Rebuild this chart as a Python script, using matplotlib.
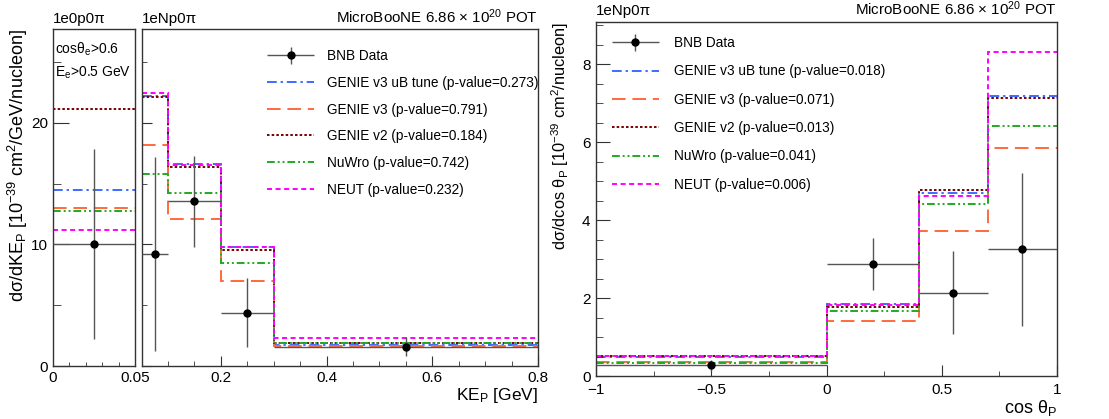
import numpy as np
import matplotlib.pyplot as plt
from matplotlib.ticker import MultipleLocator, FixedLocator
from matplotlib.legend_handler import HandlerErrorbar

plt.rcParams['font.family'] = ['Liberation Sans', 'DejaVu Sans']
plt.rcParams['mathtext.fontset'] = 'custom'
plt.rcParams['mathtext.rm'] = 'Liberation Sans'
plt.rcParams['mathtext.it'] = 'Liberation Sans'
plt.rcParams['axes.unicode_minus'] = True

# 1e0p0pi : single KE_p bin
edges_0p = [0.0, 0.05]
data_0p = [10.05]
err_0p = [7.8]
uB_0p = [14.5]
v3_0p = [13.0]
v2_0p = [21.1]
nuwro_0p = [12.7]
neut_0p = [11.2]

# 1eNp0pi : KE_p
edges_ke = [0.05, 0.1, 0.2, 0.3, 0.8]
data_ke = [9.2, 13.55, 4.38, 1.6]
err_ke = [8.0, 3.75, 2.85, 0.8]
uB_ke = [22.2, 16.6, 9.8, 1.73]
v3_ke = [18.2, 12.1, 6.96, 1.62]
v2_ke = [22.1, 16.35, 9.5, 1.9]
nuwro_ke = [15.8, 14.2, 8.46, 1.92]
neut_ke = [22.4, 16.5, 9.8, 2.33]
pval_ke = ["0.273", "0.791", "0.184", "0.742", "0.232"]

# 1eNp0pi : cos theta_p
edges_cos = [-1.0, 0.0, 0.4, 0.7, 1.0]
data_cos = [0.27, 2.88, 2.14, 3.25]
err_cos = [0.13, 0.67, 1.07, 1.96]
uB_cos = [0.48, 1.85, 4.70, 7.18]
v3_cos = [0.35, 1.41, 3.73, 5.84]
v2_cos = [0.52, 1.77, 4.76, 7.13]
nuwro_cos = [0.33, 1.67, 4.40, 6.40]
neut_cos = [0.52, 1.82, 4.61, 8.30]
pval_cos = ["0.018", "0.071", "0.013", "0.041", "0.006"]

model_names = ["GENIE v3 uB tune", "GENIE v3", "GENIE v2", "NuWro", "NEUT"]
styles = [
    dict(color='#3d6bff', ls=(0, (5, 2, 1.2, 2))),
    dict(color='#ff6a3d', ls=(0, (7, 3.5))),
    dict(color='#7a0000', ls=(0, (1.3, 1.1))),
    dict(color='#22aa22', ls=(0, (4, 1.5, 1, 1.5, 1, 1.5))),
    dict(color='#ff00ff', ls=(0, (2.6, 1.8))),
]
LW = 1.4
FS = 10
LEG_FS = 9.8
TITLE_FS = 10.9


def draw(ax, edges, data, err, models):
    lines = []
    for vals, st in zip(models, styles):
        h = ax.stairs(vals, edges, baseline=None, lw=LW, **st)
        lines.append(h)
    e = np.asarray(edges)
    centers = 0.5 * (e[1:] + e[:-1])
    halfw = 0.5 * (e[1:] - e[:-1])
    dh = ax.errorbar(centers, data, yerr=err, xerr=halfw, fmt='o', color='black',
                     ms=5, ecolor='#555555', elinewidth=1.0, capsize=0, zorder=5)
    return dh, lines


def frame(ax):
    for s in ax.spines.values():
        s.set_color('#333333')
        s.set_linewidth(1.0)
    ax.tick_params(which='both', direction='in', top=False, right=False,
                   labelsize=FS + 1, colors='#333333', labelcolor='black')


fig = plt.figure(figsize=(11.09, 4.19), dpi=100)
ax1 = fig.add_axes([53 / 1109, 1 - 366 / 419, 82 / 1109, 337 / 419])
ax2 = fig.add_axes([141.5 / 1109, 1 - 366 / 419, 396.5 / 1109, 337 / 419])
ax3 = fig.add_axes([596 / 1109, 1 - 376 / 419, 461 / 1109, 354 / 419])

# panel 1
draw(ax1, edges_0p, data_0p, err_0p, [uB_0p, v3_0p, v2_0p, nuwro_0p, neut_0p])
ax1.set_xlim(0, 0.05)
ax1.set_ylim(0, 27.7)
frame(ax1)
ax1.xaxis.set_major_locator(FixedLocator([0, 0.05]))
ax1.xaxis.set_minor_locator(FixedLocator([0.01, 0.02, 0.03, 0.04]))
ax1.set_xticklabels(["0", "0.05"])
ax1.yaxis.set_major_locator(MultipleLocator(10))
ax1.yaxis.set_minor_locator(MultipleLocator(5))
ax1.tick_params(axis='y', which='major', length=11.5)
ax1.tick_params(axis='y', which='minor', length=5.8)
ax1.tick_params(axis='x', which='major', length=0)
ax1.tick_params(axis='x', which='minor', length=3)
ax1.set_ylabel(r"dσ/dKE$_\mathregular{P}$ [10$^\mathregular{-39}$ cm$^\mathregular{2}$/GeV/nucleon]",
               fontsize=13, loc='top', labelpad=1)
ax1.text(0.03, 0.965, r"cosθ$_\mathregular{e}$>0.6", transform=ax1.transAxes,
         fontsize=FS, va='top', ha='left')
ax1.text(0.03, 0.895, r"E$_\mathregular{e}$>0.5 GeV", transform=ax1.transAxes,
         fontsize=FS, va='top', ha='left')
ax1.text(0, 1.01, "1e0p0π", transform=ax1.transAxes, fontsize=TITLE_FS, va='bottom', ha='left')

# panel 2
dh, lines = draw(ax2, edges_ke, data_ke, err_ke, [uB_ke, v3_ke, v2_ke, nuwro_ke, neut_ke])
ax2.set_xlim(0.05, 0.8)
ax2.set_ylim(0, 27.7)
frame(ax2)
ax2.xaxis.set_major_locator(FixedLocator([0.2, 0.4, 0.6, 0.8]))
ax2.xaxis.set_minor_locator(MultipleLocator(0.05))
ax2.yaxis.set_major_locator(MultipleLocator(10))
ax2.yaxis.set_minor_locator(MultipleLocator(5))
ax2.set_yticklabels([])
ax2.tick_params(which='major', length=7.2)
ax2.tick_params(which='minor', length=3.6)
ax2.set_xlabel(r"KE$_\mathregular{P}$ [GeV]", fontsize=FS + 2.5, loc='right', labelpad=1)
ax2.text(0, 1.01, "1eNp0π", transform=ax2.transAxes, fontsize=TITLE_FS, va='bottom', ha='left')
ax2.text(1, 1.01, r"MicroBooNE 6.86 × 10$^\mathregular{20}$ POT", transform=ax2.transAxes,
         fontsize=TITLE_FS, va='bottom', ha='right')
labels = ["BNB Data"] + [f"{n} (p-value={p})" for n, p in zip(model_names, pval_ke)]
ax2.legend([dh] + lines, labels, loc='upper left', bbox_to_anchor=(0.316, 0.94),
           frameon=False, fontsize=LEG_FS, handlelength=3.5, handletextpad=0.9,
           labelspacing=0.93, borderpad=0, borderaxespad=0,
           handler_map={type(dh): HandlerErrorbar(xerr_size=1.75, yerr_size=0.65)})

# panel 3
dh, lines = draw(ax3, edges_cos, data_cos, err_cos, [uB_cos, v3_cos, v2_cos, nuwro_cos, neut_cos])
ax3.set_xlim(-1, 1)
ax3.set_ylim(0, 9.08)
frame(ax3)
ax3.set_xticks([-1, -0.5, 0, 0.5, 1])
ax3.set_xticklabels(["−1", "−0.5", "0", "0.5", "1"])
ax3.xaxis.set_minor_locator(MultipleLocator(0.25))
ax3.yaxis.set_major_locator(MultipleLocator(2))
ax3.yaxis.set_minor_locator(MultipleLocator(0.5))
ax3.tick_params(axis='y', which='major', length=10, pad=4)
ax3.tick_params(axis='y', which='minor', length=5)
ax3.tick_params(axis='x', which='major', length=8, pad=5)
ax3.tick_params(axis='x', which='minor', length=3.6)
ax3.set_xlabel(r"cos θ$_\mathregular{P}$", fontsize=FS + 3, loc='right', labelpad=1)
ax3.set_ylabel(r"dσ/dcos θ$_\mathregular{P}$ [10$^\mathregular{-39}$ cm$^\mathregular{2}$/nucleon]",
               fontsize=11.8, loc='top', labelpad=8)
ax3.text(0, 1.01, "1eNp0π", transform=ax3.transAxes, fontsize=TITLE_FS, va='bottom', ha='left')
ax3.text(1, 1.01, r"MicroBooNE 6.86 × 10$^\mathregular{20}$ POT", transform=ax3.transAxes,
         fontsize=TITLE_FS, va='bottom', ha='right')
labels = ["BNB Data"] + [f"{n} (p-value={p})" for n, p in zip(model_names, pval_cos)]
ax3.legend([dh] + lines, labels, loc='upper left', bbox_to_anchor=(0.034, 0.96),
           frameon=False, fontsize=LEG_FS, handlelength=3.5, handletextpad=1.05,
           labelspacing=1.05, borderpad=0, borderaxespad=0,
           handler_map={type(dh): HandlerErrorbar(xerr_size=1.75, yerr_size=0.65)})

fig.savefig("out.png", dpi=100)
